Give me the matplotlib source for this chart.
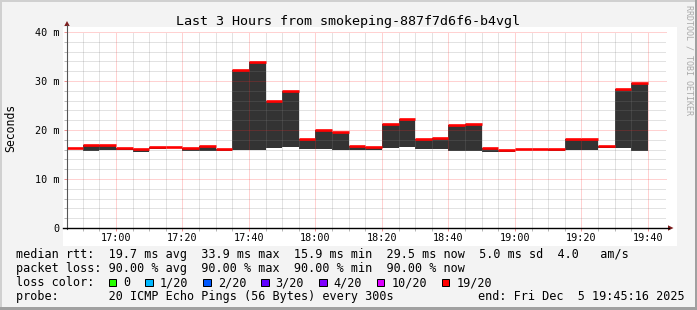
#!/usr/bin/env python3
"""Smokeping style 3-hour latency graph, redrawn with matplotlib."""

import matplotlib
matplotlib.use("Agg")
import matplotlib.pyplot as plt
import matplotlib.transforms as mtransforms
from matplotlib.lines import Line2D
from matplotlib.patches import Polygon, Rectangle

plt.rcParams["font.family"] = ["DejaVu Sans Mono"]

W, H = 697, 310

# 5-minute steps (start times) and per-step values in ms
step_times = ["16:45", "16:50", "16:55", "17:00", "17:05", "17:10", "17:15",
              "17:20", "17:25", "17:30", "17:35", "17:40", "17:45", "17:50",
              "17:55", "18:00", "18:05", "18:10", "18:15", "18:20", "18:25",
              "18:30", "18:35", "18:40", "18:45", "18:50", "18:55", "19:00",
              "19:05", "19:10", "19:15", "19:20", "19:25", "19:30", "19:35"]
median_ms = [16.3, 16.9, 16.9, 16.3, 16.1, 16.5, 16.5, 16.4, 16.7, 16.1,
             32.3, 33.9, 25.9, 28.0, 18.1, 19.9, 19.5, 16.7, 16.5, 21.2,
             22.2, 18.1, 18.3, 21.1, 21.2, 16.3, 15.9, 16.1, 16.1, 16.1,
             18.1, 18.1, 16.8, 28.3, 29.5]
smoke_lo_ms = [16.3, 15.8, 16.0, 15.9, 15.6, 16.1, 16.5, 15.8, 15.8, 15.8,
               15.9, 15.9, 16.4, 16.6, 16.1, 16.1, 15.9, 15.9, 15.9, 16.4,
               16.5, 16.2, 16.2, 15.8, 15.8, 15.6, 15.6, 16.1, 16.1, 15.8,
               16.0, 16.0, 16.4, 16.4, 15.8]

xtick_labels = ["17:00", "17:20", "17:40", "18:00", "18:20", "18:40",
                "19:00", "19:20", "19:40"]
ytick_vals = [0, 10, 20, 30, 40]
ytick_labels = ["0", "10 m", "20 m", "30 m", "40 m"]

loss_labels = ["0", "1/20", "2/20", "3/20", "4/20", "10/20", "19/20"]
loss_colors = ["#26ff00", "#00b8ff", "#0059ff", "#5e00ff", "#7e00ff",
               "#dd00ff", "#ff0000"]

legend_rtt = ("median rtt:  19.7 ms avg  33.9 ms max  15.9 ms min  "
              "29.5 ms now  5.0 ms sd  4.0   am/s")
legend_loss = "packet loss: 90.00 % avg  90.00 % max  90.00 % min  90.00 % now"
legend_probe = "probe:       20 ICMP Echo Pings (56 Bytes) every 300s"
legend_end = "end: Fri Dec  5 19:45:16 2025"
title = "Last 3 Hours from smokeping-887f7d6f6-b4vgl"


def minutes(t):
    h, m = t.split(":")
    return (int(h) - 16) * 60 + int(m)


def fx(x):
    return x / W


def fy(y):
    return 1 - y / H


fig = plt.figure(figsize=(W / 100, H / 100), dpi=100, facecolor="#f3f3f3")

# frame and canvas (behind the axes)
bg = dict(transform=fig.transFigure, lw=0, zorder=-5)
fig.add_artist(Rectangle((0, fy(2.3)), 1, 2.3 / H, color="#d0d0d0", **bg))
fig.add_artist(Rectangle((0, 0), fx(2.3), 1, color="#d0d0d0", **bg))
fig.add_artist(Rectangle((0, 0), 1, 3 / H, color="#a0a0a0", **bg))
fig.add_artist(Rectangle((fx(695), 0), fx(2), 1, color="#a0a0a0", **bg))
fig.add_artist(Rectangle((fx(62.5), fy(246)), fx(677 - 62.5), (246 - 27) / H,
                         color="white", **bg))

ax = fig.add_axes([fx(67), fy(228), (665.5 - 67) / W, 196 / H])
ax.set_facecolor("white")
ax.set_xlim(45 + 16 / 60, 225 + 16 / 60)
ax.set_ylim(0, 40)
for s in ax.spines.values():
    s.set_visible(False)

x0 = [minutes(t) for t in step_times]
heights = [m - lo for m, lo in zip(median_ms, smoke_lo_ms)]
ax.bar(x0, heights, bottom=smoke_lo_ms, width=5, align="edge",
       color="#333333", lw=0, zorder=1)

# grid (drawn over the smoke, under the median line)
major_x = [minutes(t) for t in xtick_labels]
minor_x = [m for m in range(50, 225, 5) if m not in major_x]
dots = (0, (1, 1))
minor_c = (0.5, 0.5, 0.5, 0.45)
major_c = (1.0, 0.15, 0.15, 0.42)
for m in minor_x:
    ax.axvline(m, color=minor_c, lw=0.72, ls=dots, zorder=1.5)
for m in major_x:
    ax.axvline(m, color=major_c, lw=0.72, ls=dots, zorder=1.5)
for v in range(2, 40, 2):
    if v % 10:
        ax.axhline(v, color=minor_c, lw=0.72, ls=dots, zorder=1.5)
for v in ytick_vals[1:]:
    ax.axhline(v, color=major_c, lw=0.72, ls=dots, zorder=1.5, clip_on=False)

ax.hlines(median_ms, x0, [x + 5 for x in x0], colors="#ff0000", lw=1.9,
          zorder=3)

ax.set_xticks(major_x)
ax.set_xticks(minor_x, minor=True)
ax.set_yticks(ytick_vals)
ax.set_yticks([v for v in range(2, 40, 2) if v % 10], minor=True)
ax.tick_params(which="both", direction="out", length=2.2, width=0.72,
               labelbottom=False, labelleft=False)
ax.tick_params(which="minor", colors="#b8b8b8")
ax.tick_params(which="major", colors="#ec9090")

# axis lines and arrows
fig.add_artist(Line2D([fx(67), fx(67)], [fy(228.5), fy(25)],
                      transform=fig.transFigure, color="#555555", lw=0.8))
fig.add_artist(Line2D([fx(62.5), fx(669)], [fy(228), fy(228)],
                      transform=fig.transFigure, color="black", lw=1.0))
fig.add_artist(Polygon([(fx(64.3), fy(26)), (fx(69.7), fy(26)),
                        (fx(67), fy(21))], transform=fig.transFigure,
                       color="#7f1e1e", lw=0))
fig.add_artist(Polygon([(fx(668), fy(225.3)), (fx(668), fy(230.7)),
                        (fx(673.5), fy(228))], transform=fig.transFigure,
                       color="#7f1e1e", lw=0))

# tick labels
xlab_tr = mtransforms.blended_transform_factory(ax.transData, fig.transFigure)
for t in xtick_labels:
    fig.text(minutes(t), fy(240.7), t, transform=xlab_tr, ha="center",
             va="baseline", fontsize=7.3)
ylab_tr = mtransforms.offset_copy(
    mtransforms.blended_transform_factory(fig.transFigure, ax.transData),
    fig=fig, y=-3.7 * 0.72, units="points")
for v, lab in zip(ytick_vals, ytick_labels):
    fig.text(fx(59.5), v, lab, transform=ylab_tr, ha="right", va="baseline",
             fontsize=7.3)

fig.text(fx(347.8), fy(25), title, ha="center", va="baseline", fontsize=9.6)
fig.text(fx(11), fy(127.5), "Seconds", rotation=90, ha="center", va="center",
         fontsize=8.3)
fig.text(fx(688.5), fy(60), "RRDTOOL / TOBI OETIKER", rotation=270,
         ha="center", va="center", fontsize=6, color="#aaaaaa")

# legend
fs = 8.5
fig.text(fx(16), fy(258), legend_rtt, va="baseline", fontsize=fs)
fig.text(fx(16), fy(272), legend_loss, va="baseline", fontsize=fs)
fig.text(fx(16), fy(286), "loss color:", va="baseline", fontsize=fs)
fig.text(fx(16), fy(300), legend_probe, va="baseline", fontsize=fs)
fig.text(fx(478), fy(300), legend_end, va="baseline", fontsize=fs)

sx = 108.7
for lab, col in zip(loss_labels, loss_colors):
    fig.add_artist(Rectangle((fx(sx), fy(286)), fx(7.5), 7.5 / H,
                             transform=fig.transFigure, facecolor=col,
                             edgecolor="black", lw=0.72))
    fig.text(fx(sx + 14.5), fy(286), lab, va="baseline", fontsize=fs)
    sx += 14.5 + 7.1 * len(lab) + 15

fig.savefig("out.png", dpi=100, facecolor=fig.get_facecolor())
